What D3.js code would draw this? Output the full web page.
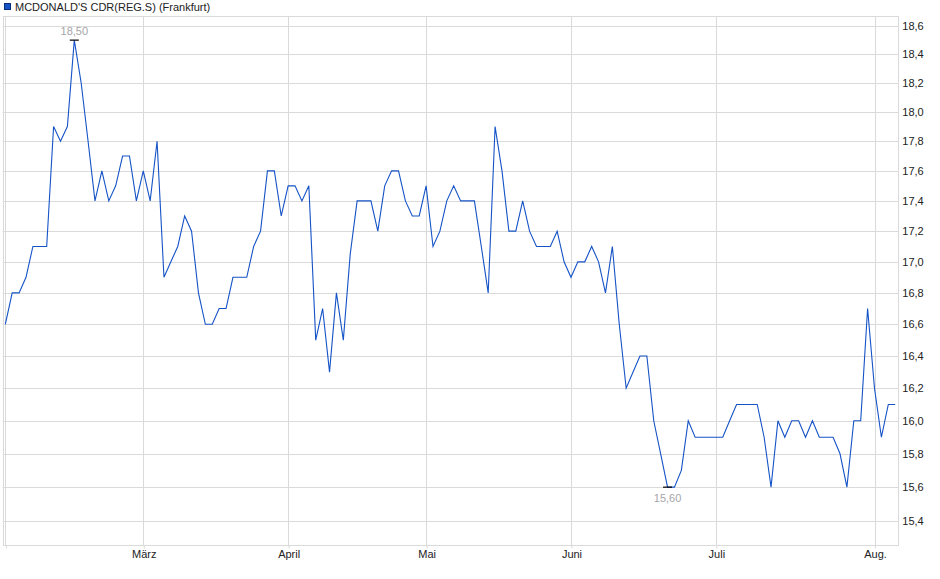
<!DOCTYPE html>
<html>
<head>
<meta charset="utf-8">
<script src="https://cdn.jsdelivr.net/npm/d3@7"></script>
<style>
  html, body { margin: 0; padding: 0; background: #fff; }
  svg { display: block; font-family: "Liberation Sans", Arial, sans-serif; }
</style>
</head>
<body>
<div id="chart"></div>
<script>
// Kursverlauf (Schlusskurse je Handelstag)
const prices = [
  16.6, 16.8, 16.8, 16.9, 17.1, 17.1, 17.1, 17.9, 17.8, 17.9,
  18.5, 18.2, 17.8, 17.4, 17.6, 17.4, 17.5, 17.7, 17.7, 17.4,
  17.6, 17.4, 17.8, 16.9, 17.0, 17.1, 17.3, 17.2, 16.8, 16.6,
  16.6, 16.7, 16.7, 16.9, 16.9, 16.9, 17.1, 17.2, 17.6, 17.6,
  17.3, 17.5, 17.5, 17.4, 17.5, 16.5, 16.7, 16.3, 16.8, 16.5,
  17.05, 17.4, 17.4, 17.4, 17.2, 17.5, 17.6, 17.6, 17.4, 17.3,
  17.3, 17.5, 17.1, 17.2, 17.4, 17.5, 17.4, 17.4, 17.4, 17.1,
  16.8, 17.9, 17.6, 17.2, 17.2, 17.4, 17.2, 17.1, 17.1, 17.1,
  17.2, 17.0, 16.9, 17.0, 17.0, 17.1, 17.0, 16.8, 17.1, 16.6,
  16.2, 16.3, 16.4, 16.4, 16.0, 15.8, 15.6, 15.6, 15.7, 16.0,
  15.9, 15.9, 15.9, 15.9, 15.9, 16.0, 16.1, 16.1, 16.1, 16.1,
  15.9, 15.6, 16.0, 15.9, 16.0, 16.0, 15.9, 16.0, 15.9, 15.9,
  15.9, 15.8, 15.6, 16.0, 16.0, 16.7, 16.2, 15.9, 16.1, 16.1
];

// Monatsanfänge (Index des ersten Handelstags)
const monthIdx = [0, 20, 41, 61, 82, 103, 126];
const monthLabels = ['', 'März', 'April', 'Mai', 'Juni', 'Juli', 'Aug.'];

const yTicks = [15.4, 15.6, 15.8, 16.0, 16.2, 16.4, 16.6, 16.8, 17.0,
                17.2, 17.4, 17.6, 17.8, 18.0, 18.2, 18.4, 18.6];

const seriesName = "MCDONALD'S CDR(REG.S) (Frankfurt)";

const width = 940, height = 579;
const frame = {left: 2.7, right: 898.3, top: 16, bottom: 545.3};
const lineColor = '#1553c6';
const gridColor = '#dadada';

const svg = d3.select('#chart')
  .append('svg')
  .attr('width', width)
  .attr('height', height);

const x = d3.scaleLinear()
  .domain([0, prices.length - 1])
  .range([5.3, 895.2]);

const y = d3.scaleLog()
  .domain([15.4, 18.6])
  .range([521, 26]);

const comma = (v, d) => v.toFixed(d).replace('.', ',');

// horizontal grid
svg.append('g')
  .selectAll('line')
  .data(yTicks)
  .enter()
  .append('line')
  .attr('x1', frame.left)
  .attr('x2', frame.right)
  .attr('y1', d => Math.round(y(d)) + 0.5)
  .attr('y2', d => Math.round(y(d)) + 0.5)
  .attr('stroke', gridColor)
  .attr('stroke-width', 1);

// vertical grid (month starts)
svg.append('g')
  .selectAll('line')
  .data(monthIdx)
  .enter()
  .append('line')
  .attr('x1', d => Math.round(x(d)) + 0.5)
  .attr('x2', d => Math.round(x(d)) + 0.5)
  .attr('y1', frame.top)
  .attr('y2', frame.bottom)
  .attr('stroke', gridColor)
  .attr('stroke-width', 1);

// frame
svg.append('rect')
  .attr('x', Math.round(frame.left) + 0.5)
  .attr('y', frame.top + 0.5)
  .attr('width', Math.round(frame.right) - Math.round(frame.left))
  .attr('height', Math.round(frame.bottom) - frame.top)
  .attr('fill', 'none')
  .attr('stroke', gridColor);

// x axis
const xAxis = d3.axisBottom(x)
  .tickValues(monthIdx)
  .tickSize(3)
  .tickFormat((d, i) => monthLabels[i]);

const gx = svg.append('g')
  .attr('transform', `translate(0.5,${Math.round(frame.bottom) + 0.5})`)
  .call(xAxis);
gx.select('.domain').remove();
gx.selectAll('.tick line').attr('stroke', gridColor);
gx.selectAll('.tick text')
  .attr('y', 5)
  .attr('fill', '#222')
  .style('font-size', '11px')
  .style('font-family', '"Liberation Sans", Arial, sans-serif');

// y axis right
const yAxis = d3.axisRight(y)
  .tickValues(yTicks)
  .tickSize(0)
  .tickPadding(4)
  .tickFormat(d => comma(d, 1));

const gy = svg.append('g')
  .attr('transform', `translate(${frame.right},0)`)
  .call(yAxis);
gy.select('.domain').remove();
gy.selectAll('.tick text')
  .attr('fill', '#222')
  .style('font-size', '11px')
  .style('font-family', '"Liberation Sans", Arial, sans-serif');

// price line
const line = d3.line()
  .x((d, i) => x(i))
  .y(d => y(d));

svg.append('path')
  .datum(prices)
  .attr('d', line)
  .attr('fill', 'none')
  .attr('stroke', lineColor)
  .attr('stroke-width', 1.1);

// high / low markers
const hi = d3.maxIndex(prices);
const lo = d3.minIndex(prices);

[[hi, -1], [lo, 1]].forEach(([i, dir]) => {
  const px = x(i), py = y(prices[i]);
  svg.append('line')
    .attr('x1', px - 4.5)
    .attr('x2', px + 4.5)
    .attr('y1', py)
    .attr('y2', py)
    .attr('stroke', '#000')
    .attr('stroke-width', 1.2);
  svg.append('text')
    .attr('x', px)
    .attr('y', dir < 0 ? py - 5 : py + 15)
    .attr('text-anchor', 'middle')
    .attr('fill', '#a5a5a8')
    .style('font-size', '11px')
    .text(comma(prices[i], 2));
});

// legend
svg.append('rect')
  .attr('x', 4.5)
  .attr('y', 3.5)
  .attr('width', 6)
  .attr('height', 6)
  .attr('fill', lineColor)
  .attr('stroke', '#0a2f7a');

svg.append('text')
  .attr('x', 15)
  .attr('y', 10.5)
  .attr('fill', '#222')
  .style('font-size', '11px')
  .text(seriesName);
</script>
</body>
</html>
